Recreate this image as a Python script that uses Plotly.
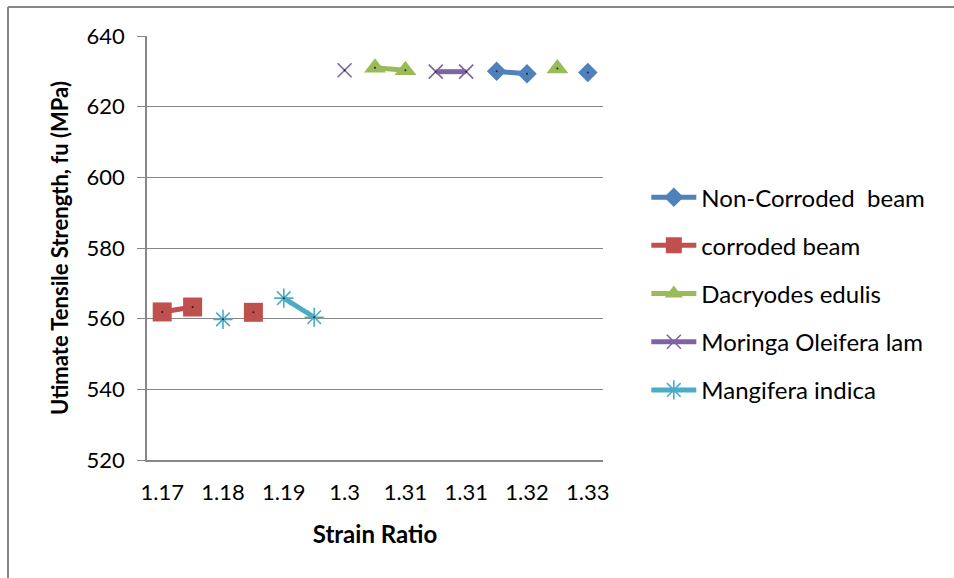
import plotly.graph_objects as go

# Strain ratio categories (15 positions on the category axis)
strain_ratio = ["1.17", "1.17", "1.18", "1.18", "1.19", "1.19", "1.3", "1.3",
                "1.31", "1.31", "1.31", "1.31", "1.32", "1.32", "1.33"]
positions = list(range(len(strain_ratio)))

# Ultimate tensile strength (MPa) for each specimen group
non_corroded = [None, None, None, None, None, None, None, None, None, None, None, 630.0, 629.3, None, 629.7]
corroded = [561.9, 563.3, None, 561.8, None, None, None, None, None, None, None, None, None, None, None]
dacryodes = [None, None, None, None, None, None, None, 631.0, 630.3, None, None, None, None, 630.8, None]
moringa = [None, None, None, None, None, None, 630.3, None, None, 629.9, 629.9, None, None, None, None]
mangifera = [None, None, 559.8, None, 565.8, 560.4, None, None, None, None, None, None, None, None, None]

series = [
    ("Non-Corroded\u00a0 beam", non_corroded, "#4F81BD", "diamond", 15, 0),
    ("corroded beam", corroded, "#C0504D", "square", 19, 0),
    ("Dacryodes edulis", dacryodes, "#9BBB59", "triangle-up", 19, 0),
    ("Moringa Oleifera lam", moringa, "#8064A2", "x-thin", 14, 1.6),
    ("Mangifera indica", mangifera, "#4BACC6", "asterisk", 16, 1.6),
]

fig = go.Figure()
for i, (name, vals, color, symbol, size, lw) in enumerate(series):
    fig.add_trace(go.Scatter(
        x=positions, y=vals, name=name, mode="lines+markers",
        connectgaps=False, legendgroup=f"g{i}",
        line=dict(color=color, width=5),
        marker=dict(symbol=symbol, size=size, color=color,
                    line=dict(color=color, width=lw)),
    ))

# small centre dots on each data point
for name, vals, color, symbol, size, lw in series:
    fig.add_trace(go.Scatter(
        x=positions, y=vals, mode="markers", showlegend=False, hoverinfo="skip",
        marker=dict(symbol="circle", size=2, color="#222222"),
    ))

grid_color = "#878787"
fig.update_layout(
    width=954, height=578,
    margin=dict(l=147, r=351, t=36, b=118),
    paper_bgcolor="white", plot_bgcolor="white",
    font=dict(family="Lato, 'Open Sans', sans-serif", size=22, color="#000000"),
    showlegend=True,
    legend=dict(x=1.095, y=0.672, xanchor="left", yanchor="top",
                font=dict(size=24), tracegroupgap=14, traceorder="grouped",
                itemwidth=45, bgcolor="rgba(0,0,0,0)"),
    xaxis=dict(
        range=[-0.5, 14.5], tickmode="array",
        tickvals=positions[::2], ticktext=strain_ratio[::2],
        showgrid=False, zeroline=False, showline=True,
        linecolor=grid_color, linewidth=1.5, ticks="",
        tickfont=dict(size=22), ticklabelstandoff=12,
        title=dict(text="<b>Strain Ratio</b>", font=dict(size=24), standoff=22),
    ),
    yaxis=dict(
        range=[520, 640], tickmode="array",
        tickvals=[520, 540, 560, 580, 600, 620, 640],
        showgrid=True, gridcolor=grid_color, gridwidth=1.2, zeroline=False,
        showline=True, linecolor=grid_color, linewidth=1.5,
        ticks="outside", ticklen=8, tickcolor=grid_color,
        tickfont=dict(size=22), ticklabelstandoff=8,
        title=dict(text="<b>Utimate Tensile Strength, fu (MPa)</b>",
                   font=dict(size=22), standoff=12),
    ),
)

# chart-area border (left and top edges)
fig.add_shape(type="line", xref="paper", yref="paper",
              x0=-0.3048, y0=-0.29, x1=-0.3048, y1=1.0684,
              line=dict(color="#868686", width=2))
fig.add_shape(type="line", xref="paper", yref="paper",
              x0=-0.3048, y0=1.0684, x1=1.8, y1=1.0684,
              line=dict(color="#868686", width=2))

fig.write_html("out.html")
